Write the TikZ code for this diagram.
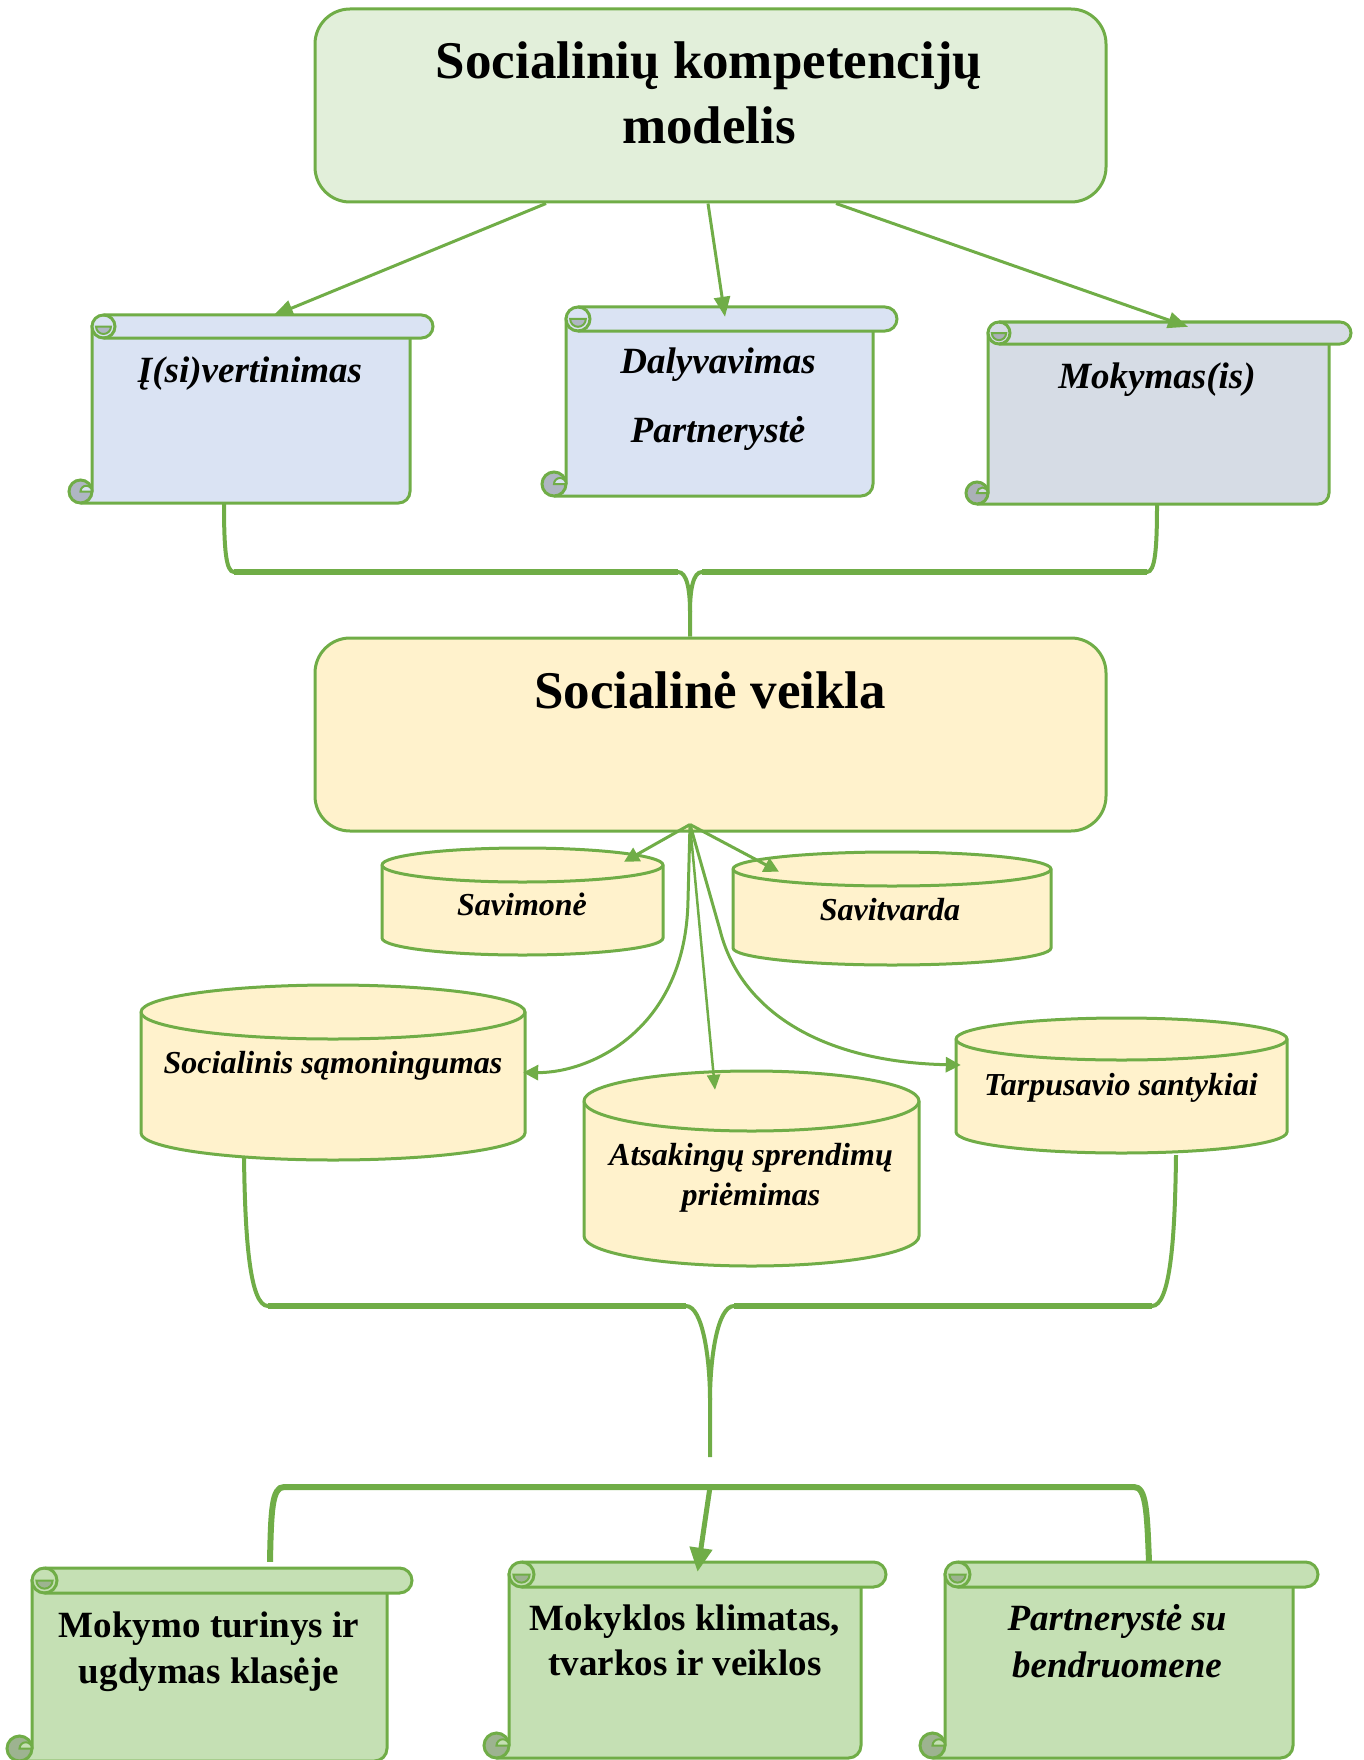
\documentclass[tikz,border=0pt]{standalone}
\usepackage{fontspec}
\setmainfont{Liberation Serif}
\usetikzlibrary{arrows.meta}
\definecolor{grn}{HTML}{70AD47}
\definecolor{topf}{HTML}{E2EFDA}
\definecolor{socf}{HTML}{FFF2CC}
\definecolor{bluef}{HTML}{DAE3F3}
\definecolor{blued}{HTML}{AFB6C3}
\definecolor{grayf}{HTML}{D6DCE5}
\definecolor{grayd}{HTML}{ABB0B7}
\definecolor{grnf}{HTML}{C5E0B4}
\definecolor{grnd}{HTML}{9DB390}
\newcommand{\scrl}[8]{%
 \pgfmathsetmacro\scH{#6/2}%
 \pgfmathsetmacro\scQ{0.65*#6/2}%
 \filldraw[sc,fill=#7] ({#2},{#5-\scH}) -- ({#2},{#3+\scH}) -- ({#4-#6},{#3+\scH}) -- ({#4-#6},{#5-\scH}) arc[start angle=0,end angle=90,radius=\scH] -- ({#2-\scH},{#5});
 \filldraw[sc,fill=#8] ({#2-\scH},{#5-\scH}) circle[radius=\scH];
 \filldraw[sc,line width=2pt,fill=#7] ({#2},{#5-\scH}) arc[start angle=0,end angle=-180,radius=\scH/2] -- cycle;
 \filldraw[sc,fill=#7] ({#2+\scH},{#3}) -- ({#4-\scH},{#3}) arc[start angle=-90,end angle=90,radius=\scH] -- ({#2+\scH},{#3+#6}) arc[start angle=90,end angle=270,radius=\scH] -- cycle;
 \draw[sc] ({#2+\scH},{#3}) arc[start angle=-90,end angle=90,radius=\scH];
 \filldraw[sc,line width=2pt,fill=#8] ({#2+\scH-\scQ},{#3+\scH}) arc[start angle=180,end angle=0,radius=\scQ] -- cycle;
 \node[inner sep=0pt,minimum width={(#4-#2)*1pt},minimum height={(#5-#3)*1pt}] (#1) at ({(#2+#4)/2},{(#3+#5)/2}) {};
}
\newcommand{\cyl}[6]{%
 \pgfmathsetmacro\cyX{(#2+#3)/2}%
 \pgfmathsetmacro\cyR{(#3-#2)/2}%
 \filldraw[cy] ({#2},{#4+#6}) -- ({#2},{#5-#6}) arc[start angle=180,end angle=0,x radius=\cyR,y radius=#6] -- ({#3},{#4+#6}) arc[start angle=0,end angle=-180,x radius=\cyR,y radius=#6] -- cycle;
 \draw[cy] ({#2},{#4+#6}) arc[start angle=180,end angle=0,x radius=\cyR,y radius=#6];
 \node[inner sep=0pt,minimum width={(#3-#2)*1pt},minimum height={(#5-#4)*1pt}] (#1) at (\cyX,{(#4+#5)/2}) {};
}
\begin{document}
\begin{tikzpicture}[x=1pt,y=-1pt,
  sc/.style={draw=grn,line width=3pt},
  cy/.style={draw=grn,line width=3pt,fill=socf},
  bigbox/.style={draw=grn,line width=3pt,rounded corners=35pt,minimum width=791pt,minimum height=193pt,inner sep=0pt},
  ttl/.style={font=\fontsize{53}{64}\selectfont\bfseries,anchor=base,inner sep=0pt},
  scr/.style={font=\fontsize{37}{44}\selectfont\bfseries\itshape,anchor=base,inner sep=0pt},
  scb/.style={font=\fontsize{37}{44}\selectfont\bfseries,anchor=base,inner sep=0pt},
  cyt/.style={font=\fontsize{32}{38}\selectfont\bfseries\itshape,anchor=base,inner sep=0pt},
  arr/.style={draw=grn,line width=3pt,-{Triangle[length=20pt,width=16pt]}},
  sarr/.style={draw=grn,line width=3pt,-{Triangle[length=15pt,width=15pt]}},
  tarr/.style={draw=grn,line width=2.5pt,-{Triangle[length=15pt,width=13pt]}},
  barr/.style={draw=grn,line width=5pt,-{Triangle[length=24pt,width=22pt]}},
  brc/.style={draw=grn,line width=4pt},
  brcbar/.style={draw=grn,line width=6pt},
  brc3/.style={draw=grn,line width=6pt}]
\useasboundingbox (0,0) rectangle (1363,1760);

% main boxes
\node[bigbox,fill=topf] (top) at (710.5,105.5) {};
\node[ttl] (t1a) at (709,79) {Socialinių kompetencijų};
\node[ttl] (t1b) at (709,144) {modelis};

\node[bigbox,fill=socf] (soc) at (710.5,734.5) {};
\node[ttl] (t2) at (710,708) {Socialinė veikla};

% scrolls
\scrl{s1}{92}{315}{433}{503}{23}{bluef}{blued}
\scrl{s2}{566}{307}{897}{496}{24}{bluef}{blued}
\scrl{s3}{988}{322}{1351}{504}{22}{grayf}{grayd}
\scrl{s4}{32}{1568}{412}{1761}{25}{grnf}{grnd}
\scrl{s5}{509}{1562}{886}{1758}{25}{grnf}{grnd}
\scrl{s6}{945}{1562}{1318}{1758}{25}{grnf}{grnd}

\node[scr] (x1) at (250,382) {Į(si)vertinimas};
\node[scr] (x2a) at (718,373) {Dalyvavimas};
\node[scr] (x2b) at (718,442) {Partnerystė};
\node[scr] (x3) at (1157,388) {Mokymas(is)};
\node[scb] (x4a) at (209,1637) {Mokymo turinys ir};
\node[scb] (x4b) at (209,1683) {ugdymas klasėje};
\node[scb] (x5a) at (685,1630) {Mokyklos klimatas,};
\node[scb] (x5b) at (685,1675) {tvarkos ir veiklos};
\node[scr] (x6a) at (1117,1630) {Partnerystė su};
\node[scr] (x6b) at (1117,1677) {bendruomene};

% cylinders
\cyl{cyl1}{382}{663}{848}{955}{17}
\cyl{cyl2}{733}{1051}{852}{965}{17}
\cyl{cyl3}{141}{525}{985}{1160}{27}
\cyl{cyl4}{584}{919}{1071}{1266}{30}
\cyl{cyl5}{956}{1287}{1018}{1153}{21}

\node[cyt] (c1) at (522,915) {Savimonė};
\node[cyt] (c2) at (890,920) {Savitvarda};
\node[cyt] (c3) at (333,1073) {Socialinis sąmoningumas};
\node[cyt] (c4a) at (751,1165) {Atsakingų sprendimų};
\node[cyt] (c4b) at (751,1205) {priėmimas};
\node[cyt] (c5) at (1121,1095) {Tarpusavio santykiai};

% top arrows
\draw[arr] ([xshift=-164.5]top.south) -- ([xshift=10.5,yshift=-1]s1.north);
\draw[arr] ([xshift=-2.5]top.south) -- ([xshift=-6.5,yshift=-10]s2.north);
\draw[arr] ([xshift=125.5]top.south) -- ([xshift=18.5,yshift=-5]s3.north);

% bracket 1
\coordinate (b1a) at ([xshift=-38.5]s1.south);
\coordinate (b1b) at ([xshift=-12.5]s3.south);
\coordinate (b1c) at ([xshift=-20.5]soc.north);
\draw[brc] (b1a) .. controls (224,550) and (226,572) .. (234,572) -- (678,572) .. controls (687,572) and (690,590) .. (690,612) -- (b1c);
\draw[brc] (b1b) .. controls (1157,550) and (1155,572) .. (1147,572) -- (702,572) .. controls (693,572) and (690,590) .. (690,612);
\draw[brcbar] (234,572) -- (678,572);
\draw[brcbar] (702,572) -- (1147,572);

% arrows from Socialine veikla
\coordinate (o) at ([xshift=-20.5,yshift=8]soc.south);
\draw[sarr] (o) -- ([xshift=101.5,yshift=-14]cyl1.north);
\draw[sarr] (o) -- ([xshift=-113,yshift=-20]cyl2.north);
\draw[sarr] (o) -- (688,900) .. controls (686,1030) and (590,1073) .. ([xshift=-2]cyl3.east);
\draw[tarr] (o) -- ([xshift=-36.5,yshift=-19]cyl4.north);
\draw[sarr] (o) -- (720,930) .. controls (740,1010) and (820,1062) .. ([xshift=5,yshift=20.5]cyl5.west);

% bracket 2
\coordinate (b2a) at ([xshift=-89,yshift=4]cyl3.south);
\coordinate (b2b) at ([xshift=54.5,yshift=-2]cyl5.south);
\coordinate (b2c) at (710,1457);
\draw[brc] (b2a) .. controls (245,1240) and (250,1306) .. (268,1306) -- (686,1306) .. controls (703,1306) and (710,1360) .. (710,1400) -- (b2c);
\draw[brc] (b2b) .. controls (1175,1240) and (1170,1306) .. (1152,1306) -- (734,1306) .. controls (717,1306) and (710,1360) .. (710,1400);
\draw[brcbar] (268,1306) -- (686,1306);
\draw[brcbar] (734,1306) -- (1152,1306);

% bracket 3
\coordinate (b3a) at ([xshift=48,yshift=6]s4.north);
\coordinate (b3b) at ([xshift=17.5]s6.north);
\coordinate (b3m) at (710,1487);
\draw[brc3] (b3a) .. controls (271,1510) and (272,1487) .. (284,1487) -- (1134,1487) .. controls (1146,1487) and (1147,1510) .. (b3b);
\draw[barr] (b3m) -- ([yshift=-10]s5.north);
\end{tikzpicture}
\end{document}
